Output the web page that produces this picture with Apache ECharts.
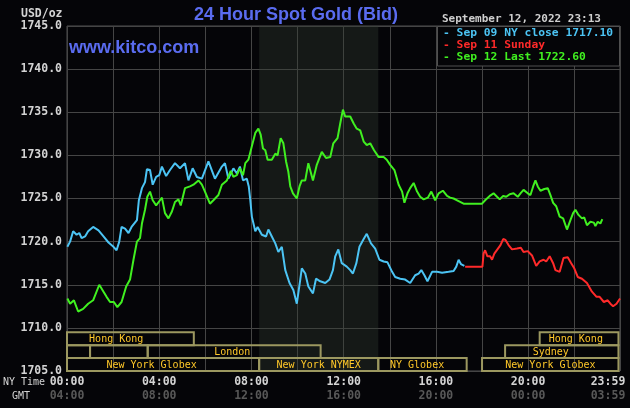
<!DOCTYPE html>
<html><head><meta charset="utf-8">
<script src="https://cdn.jsdelivr.net/npm/echarts@6/dist/echarts.min.js"></script>
<style>html,body{margin:0;padding:0;background:#050508}#c{width:630px;height:408px}</style>
</head><body><div id="c"></div><script>
// ---- data (time in minutes after 00:00 NY time) ----
const sep09Time = [1,8,16,25,32,38,47,55,68,82,95,108,121,129,136,142,151,160,168,182,187,195,203,208,216,223,232,240,247,258,268,281,294,307,316,327,338,351,368,385,403,411,420,433,442,450,458,468,473,477,481,490,496,507,518,524,533,542,550,559,568,579,589,598,607,611,620,628,640,648,659,672,683,692,698,706,715,728,737,744,753,761,772,780,791,802,813,824,834,846,854,867,880,893,906,915,922,930,938,950,963,976,980,993,1006,1013,1019,1025,1034];
const sep09Value = [1719.4,1720.0,1721.2,1720.8,1721.0,1720.4,1720.6,1721.2,1721.7,1721.3,1720.6,1719.9,1719.4,1719.0,1720.0,1721.7,1721.5,1721.0,1721.7,1722.5,1724.8,1726.2,1726.9,1728.4,1728.3,1726.6,1727.5,1727.7,1728.7,1727.6,1728.3,1729.1,1728.5,1729.1,1727.1,1728.5,1727.5,1727.3,1729.3,1727.3,1728.7,1729.1,1727.3,1728.5,1727.9,1728.7,1727.1,1727.3,1726.4,1724.8,1722.9,1721.2,1721.7,1720.8,1720.6,1721.4,1720.6,1719.8,1718.8,1719.4,1716.7,1715.2,1714.4,1712.8,1715.6,1716.9,1716.3,1714.8,1714.0,1715.7,1715.4,1715.2,1715.6,1716.7,1718.3,1719.1,1717.5,1717.1,1716.7,1716.3,1717.5,1719.4,1720.3,1720.9,1719.8,1719.2,1717.9,1717.7,1717.6,1716.5,1715.9,1715.7,1715.6,1715.2,1716.1,1716.3,1716.7,1716.1,1715.4,1716.5,1716.5,1716.4,1716.2,1716.5,1716.6,1717.1,1717.9,1717.4,1717.2];

const sep11Time = [1036,1081,1084,1088,1094,1101,1106,1112,1120,1128,1135,1141,1149,1158,1171,1181,1188,1199,1210,1221,1230,1240,1247,1256,1265,1271,1282,1292,1303,1312,1320,1329,1340,1353,1366,1378,1386,1397,1407,1414,1421,1430,1439];
const sep11Value = [1717.1,1717.1,1718.6,1719.0,1718.3,1718.3,1717.9,1718.6,1719.1,1719.6,1720.3,1720.2,1719.6,1719.1,1719.2,1719.3,1718.8,1718.9,1718.4,1717.2,1717.7,1717.9,1717.7,1718.3,1717.5,1716.7,1716.5,1718.1,1718.2,1717.5,1716.9,1715.9,1715.7,1715.2,1714.2,1713.6,1713.6,1713.0,1713.2,1712.8,1712.5,1712.8,1713.4];

const sep12Time = [1,8,18,29,42,55,68,84,95,103,112,122,131,142,154,164,173,182,190,195,203,209,216,223,232,242,247,255,264,273,281,290,296,307,320,329,342,351,359,372,381,394,403,416,426,433,442,450,458,464,472,477,483,490,498,504,510,516,522,533,542,548,556,563,570,576,581,588,598,605,611,620,628,640,650,663,674,685,693,704,711,718,724,737,746,754,763,772,780,789,799,811,824,832,841,852,863,872,878,886,893,902,911,919,928,939,948,958,967,978,989,997,1006,1019,1032,1080,1088,1100,1110,1119,1126,1135,1143,1152,1162,1173,1180,1188,1199,1206,1213,1219,1225,1232,1242,1251,1258,1265,1273,1282,1291,1301,1310,1317,1323,1331,1340,1346,1353,1362,1371,1375,1381,1388,1393];
const sep12Value = [1713.4,1712.8,1713.2,1711.9,1712.2,1712.8,1713.2,1715.0,1714.2,1713.6,1713.0,1713.0,1712.4,1713.0,1714.8,1715.6,1717.9,1720.0,1720.4,1722.1,1723.7,1725.2,1725.8,1724.8,1724.2,1724.8,1725.1,1723.3,1722.7,1723.5,1724.6,1724.9,1724.2,1726.2,1726.4,1726.6,1727.1,1726.6,1725.8,1724.4,1724.8,1725.4,1726.6,1727.1,1728.2,1727.5,1727.7,1728.5,1727.7,1729.1,1729.5,1729.4,1731.4,1732.6,1733.1,1732.4,1730.8,1730.6,1729.5,1729.5,1730.2,1730.0,1732.0,1731.4,1729.3,1728.1,1726.4,1725.6,1725.0,1726.4,1727.1,1727.1,1729.1,1727.1,1728.9,1730.4,1729.7,1729.8,1731.4,1732.0,1733.7,1735.3,1734.5,1734.5,1733.7,1733.1,1732.9,1731.6,1731.2,1731.4,1730.6,1729.8,1729.8,1729.5,1728.9,1728.3,1726.6,1725.8,1724.5,1725.6,1726.2,1726.8,1725.8,1725.2,1724.9,1725.1,1725.8,1724.8,1725.6,1725.9,1725.3,1725.1,1725.0,1724.7,1724.4,1724.4,1724.8,1725.3,1725.6,1725.2,1724.9,1725.3,1725.2,1725.5,1725.6,1725.2,1725.6,1726.0,1725.6,1725.4,1726.4,1727.1,1726.4,1725.9,1726.1,1726.2,1725.4,1724.5,1724.1,1722.9,1722.7,1721.4,1722.5,1723.3,1723.7,1723.1,1722.7,1722.8,1721.9,1722.3,1722.2,1721.8,1722.3,1722.1,1722.6];

const legendTexts = ['- Sep 09 NY close 1717.10', '- Sep 11 Sunday', '- Sep 12 Last 1722.60'];
const seriesColors = ['#4cc4f4', '#ff2a2a', '#40f020'];

const tickMinutes = [0, 240, 480, 720, 960, 1200, 1439];
const nyTickLabels = ['00:00', '04:00', '08:00', '12:00', '16:00', '20:00', '23:59'];
const gmtTickLabels = ['04:00', '08:00', '12:00', '16:00', '20:00', '00:00', '03:59'];

const nymexStart = 500, nymexEnd = 810;

// market sessions: row 0 = bottom
const sessionNames   = ['New York Globex', 'New York NYMEX', 'NY Globex', 'New York Globex', '', '', 'London', 'Sydney', 'Hong Kong', 'Hong Kong'];
const sessionStart   = [0, 500, 810, 1080, 0, 60, 210, 1140, 0, 1230];
const sessionEnd     = [500, 810, 1040, 1435, 60, 210, 660, 1435, 330, 1435];
const sessionRow     = [0, 0, 0, 0, 1, 1, 1, 1, 2, 2];
const sessionLabelAt = [220, 655, 911, 1258, 30, 135, 430, 1259, 128, 1324];
const rowBands = [[1705, 1706.5], [1706.5, 1708], [1708, 1709.5]];

const pairs = (t, v) => t.map((x, i) => [x, v[i]]);
const MONO = '"DejaVu Sans Mono", monospace';

const chart = echarts.init(document.getElementById('c'), null, {renderer: 'canvas'});
const option = {
  backgroundColor: '#050508',
  animation: false,
  grid: {left: 67, top: 26, right: 10, bottom: 37, show: true, borderColor: '#505050', borderWidth: 1, backgroundColor: 'transparent'},
  xAxis: {
    type: 'value', min: 0, max: 1439, interval: 120,
    axisLine: {show: false}, axisTick: {show: false},
    splitLine: {show: true, lineStyle: {color: '#454545', width: 1}},
    axisLabel: {
      margin: 4, showMaxLabel: false,
      formatter: v => {
        const i = tickMinutes.indexOf(v);
        if (i < 0 || i === tickMinutes.length - 1) return '';
        return '{a|' + nyTickLabels[i] + '}\n{b|' + gmtTickLabels[i] + '}';
      },
      rich: {
        a: {color: '#d4d4d4', fontFamily: MONO, fontWeight: 'bold', fontSize: 11.5, lineHeight: 14},
        b: {color: '#585858', fontFamily: MONO, fontWeight: 'bold', fontSize: 11.5, lineHeight: 14}
      }
    }
  },
  yAxis: {
    type: 'value', min: 1705, max: 1745, interval: 5,
    axisLine: {show: false}, axisTick: {show: false},
    splitLine: {show: true, lineStyle: {color: '#454545', width: 1}},
    axisLabel: {margin: 5, color: '#d4d4d4', fontFamily: MONO, fontWeight: 'bold', fontSize: 11.5, formatter: v => v.toFixed(1)}
  },
  series: [
    {
      type: 'custom', name: 'sessions', silent: true, z: 3,
      data: sessionStart.map((s, i) => [s, sessionEnd[i], sessionRow[i], sessionLabelAt[i]]),
      encode: {x: [0, 1]},
      renderItem: (params, api) => {
        const i = params.dataIndex;
        const r = api.value(2);
        const p0 = api.coord([api.value(0), rowBands[r][1]]);
        const p1 = api.coord([api.value(1), rowBands[r][0]]);
        const lx = api.coord([api.value(3), rowBands[r][0]])[0];
        return {
          type: 'group',
          children: [
            {type: 'rect', shape: {x: p0[0], y: p0[1], width: p1[0] - p0[0], height: p1[1] - p0[1]},
             style: {fill: 'none', stroke: '#9c9860', lineWidth: 2}},
            {type: 'text', style: {text: sessionNames[i], x: lx, y: (p0[1] + p1[1]) / 2 + 0.5,
             fill: '#ffc829', font: '10px ' + MONO, align: 'center', verticalAlign: 'middle'}}
          ]
        };
      }
    },
    {
      type: 'line', name: legendTexts[0], data: pairs(sep09Time, sep09Value), showSymbol: false, z: 5,
      lineStyle: {color: seriesColors[0], width: 2}, itemStyle: {color: seriesColors[0]},
      markArea: {silent: true, itemStyle: {color: 'rgba(50,62,50,0.36)'}, data: [[{xAxis: nymexStart}, {xAxis: nymexEnd}]]}
    },
    {
      type: 'line', name: legendTexts[1], data: pairs(sep11Time, sep11Value), showSymbol: false, z: 5,
      lineStyle: {color: seriesColors[1], width: 2}, itemStyle: {color: seriesColors[1]}
    },
    {
      type: 'line', name: legendTexts[2], data: pairs(sep12Time, sep12Value), showSymbol: false, z: 6,
      lineStyle: {color: seriesColors[2], width: 2}, itemStyle: {color: seriesColors[2]}
    }
  ]
};
chart.setOption(option);

const xLast = chart.convertToPixel({xAxisIndex: 0}, tickMinutes[tickMinutes.length - 1]);
const graphics = [
  {type: 'text', left: 21, top: 8, style: {text: 'USD/oz', fill: '#d4d4d4', font: 'bold 11.5px ' + MONO}},
  {type: 'text', x: 296, y: 15, style: {text: '24 Hour Spot Gold (Bid)', fill: '#5a6cf0', font: 'bold 18px "Liberation Sans", Arial, sans-serif', align: 'center', verticalAlign: 'middle'}},
  {type: 'text', x: 69, y: 48.5, style: {text: 'www.kitco.com', fill: '#5a6cf0', font: 'bold 18px "Liberation Sans", Arial, sans-serif', align: 'left', verticalAlign: 'middle'}},
  {type: 'text', x: 442, y: 19, style: {text: 'September 12, 2022 23:13', fill: '#cfcfcf', font: 'bold 11px ' + MONO, verticalAlign: 'middle'}},
  {type: 'rect', shape: {x: 437.5, y: 26.5, width: 182, height: 39.5}, style: {fill: '#050508', stroke: '#505050', lineWidth: 1}, z: 100},
  {type: 'text', x: 443, y: 33.5, z: 101, style: {text: legendTexts[0], fill: seriesColors[0], font: 'bold 11.3px ' + MONO, verticalAlign: 'middle'}},
  {type: 'text', x: 443, y: 45.5, z: 101, style: {text: legendTexts[1], fill: seriesColors[1], font: 'bold 11.3px ' + MONO, verticalAlign: 'middle'}},
  {type: 'text', x: 443, y: 57.5, z: 101, style: {text: legendTexts[2], fill: seriesColors[2], font: 'bold 11.3px ' + MONO, verticalAlign: 'middle'}},
  {type: 'text', x: 3, y: 382, style: {text: 'NY Time', fill: '#d4d4d4', font: '10px ' + MONO, verticalAlign: 'middle'}},
  {type: 'text', x: 12, y: 396, style: {text: 'GMT', fill: '#d4d4d4', font: '10px ' + MONO, verticalAlign: 'middle'}},
  {type: 'text', x: xLast - 12, y: 382, style: {text: nyTickLabels[nyTickLabels.length - 1], fill: '#d4d4d4', font: 'bold 11.5px ' + MONO, align: 'center', verticalAlign: 'middle'}},
  {type: 'text', x: xLast - 12, y: 396, style: {text: gmtTickLabels[gmtTickLabels.length - 1], fill: '#585858', font: 'bold 11.5px ' + MONO, align: 'center', verticalAlign: 'middle'}}
];
chart.setOption({graphic: graphics});
</script></body></html>
